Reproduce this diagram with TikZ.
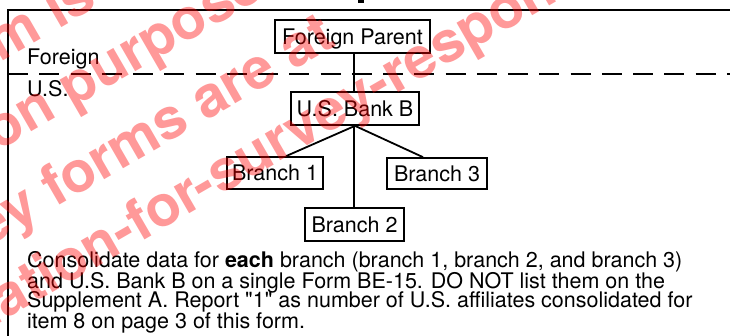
\documentclass[tikz,border=0pt]{standalone}
\usepackage{fontspec}
\setmainfont{TeX Gyre Heros}[Ligatures=TeXOff]
\begin{document}
\begin{tikzpicture}[x=1pt,y=-1pt,
  box/.style={draw, line width=1.7pt, inner sep=0pt, text height=15.4pt, text depth=0pt,
    font=\fontsize{21.5}{24}\selectfont},
  link/.style={line width=1.8pt},
  txt/.style={anchor=base west, inner sep=0pt, font=\fontsize{21.5}{20}\selectfont},
  wmark/.style={anchor=base west, inner sep=0pt, text=red, opacity=0.4, rotate=30,
    font=\fontsize{57}{60}\selectfont\bfseries}]

% page area
\useasboundingbox (0,0) rectangle (730,336);
\fill[white] (0,0) rectangle (730,336);
\clip (0,0) rectangle (730,336);

% frame and the Foreign / U.S. divider
\fill (358,0) rectangle (364,3);
\draw[line width=2pt] (731,10) -- (8,10) -- (8,337);
\draw[line width=2.7pt, dash pattern=on 20pt off 11.25pt] (8,74) -- (731,74);

\node[txt] (lforeign) at (27,65) {Foreign};
\node[txt] (lus) at (27,97) {U.S.};

% ownership chart
\node[box, minimum width=155pt, minimum height=33pt] (fp) at (352.5,36.5) {Foreign Parent};
\node[box, minimum width=128pt, minimum height=33pt] (bank) at (355,108.5) {U.S. Bank B};
\node[box, minimum width=96pt, minimum height=32pt] (b1) at (275,173) {Branch 1};
\node[box, minimum width=100pt, minimum height=31pt] (b3) at (437,173.5) {Branch 3};
\node[box, minimum width=99pt, minimum height=33pt] (b2) at (354.5,224.5) {Branch 2};

\draw[link] ([xshift=-1pt]bank.north) -- ([xshift=-1pt]bank.north |- fp.south);
\draw[link] (bank.south) -- ([xshift=11pt]b1.north);
\draw[link] (bank.south) -- ([xshift=-14pt]b3.north);
\draw[link] ([xshift=-1pt]bank.south) -- ([xshift=-1pt]bank.south |- b2.north);

% note
\node[txt] (n1) at (27,268) {Consolidate data for {\bfseries each} branch (branch 1, branch 2, and branch 3)};
\node[txt] (n2) at (27,288) {and U.S. Bank B on a single Form BE-15. DO NOT list them on the};
\node[txt] (n3) at (27,308) {Supplement A. Report "1" as number of U.S. affiliates consolidated for};
\node[txt] (n4) at (27,328) {item 8 on page 3 of this form.};

% watermark
\node[wmark] (w1) at (58,29.5) {\llap{This form }is for information};
\node[wmark] (w2) at (72,108.5) {\llap{information }purposes only.};
\node[wmark] (w3) at (55,208) {\llap{Survey }forms are at};
\node[wmark] (w4) at (220,196) {\llap{www.bea.gov/information-for-}survey-respondents};
\end{tikzpicture}
\end{document}
